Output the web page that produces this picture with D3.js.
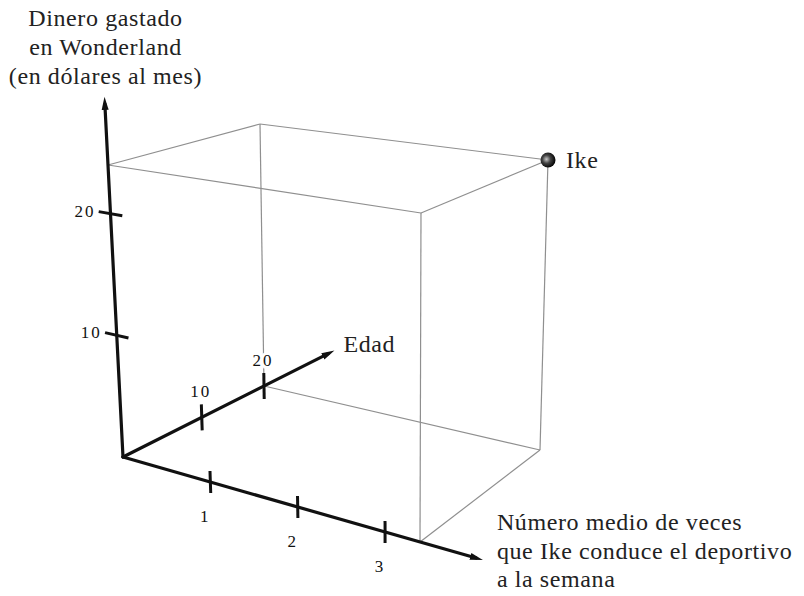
<!DOCTYPE html>
<html>
<head>
<meta charset="utf-8">
<script src="https://cdn.jsdelivr.net/npm/d3@7"></script>
<style>
  body { margin: 0; background: #fff; }
  text { font-family: "Liberation Serif", "DejaVu Serif", serif; fill: #222; }
</style>
</head>
<body>
<script>
// Datos del grafico
var puntoNombre = ["Ike"];
var puntoVeces = [3.4];     // veces por semana
var puntoDinero = [24];     // dolares al mes
var puntoEdad = [20];       // anos

var vecesTicks = [1, 2, 3];
var dineroTicks = [10, 20];
var edadTicks = [10, 20];

// hasta donde llegan las flechas de los ejes
var vecesMax = 4.12;
var dineroMax = 29.6;
var edadMax = 32.4;

var tituloDinero = ["Dinero gastado", "en Wonderland", "(en dólares al mes)"];
var tituloVeces = ["Número medio de veces", "que Ike conduce el deportivo", "a la semana"];
var tituloEdad = ["Edad"];

function loadChart() {

  var wx = 804,
      hy = 596;

  var canvas = d3.select("body")
      .append("svg")
      .attr("width", wx)
      .attr("height", hy);

  // Marco de la proyeccion (dibujo a mano alzada, casi en perspectiva).
  // Posicion en pantalla de las esquinas del cubo de referencia (u,v,w).
  var marco = {
    "000": [123, 457], "100": [420, 542], "010": [108, 165], "110": [421, 213],
    "001": [264, 386], "101": [540, 450], "011": [260, 124], "111": [548, 160]
  };

  var sx = d3.scaleLinear().domain([0, puntoVeces[0]]).range([0, 1]);
  var sy = d3.scaleLinear().domain([0, puntoDinero[0]]).range([0, 1]);
  // la profundidad se acorta con la distancia
  var sz = d3.scalePow().exponent(0.84).domain([0, puntoEdad[0]]).range([0, 1]);

  function proyectar(x, y, z) {
    var u = sx(x), v = sy(y), w = sz(z);
    var px = 0, py = 0;
    Object.keys(marco).forEach(function(k) {
      var p = (k[0] == "1" ? u : 1 - u) *
              (k[1] == "1" ? v : 1 - v) *
              (k[2] == "1" ? w : 1 - w);
      px += p * marco[k][0];
      py += p * marco[k][1];
    });
    return [px, py];
  }

  function direccion(a, b) {
    var dx = b[0] - a[0], dy = b[1] - a[1];
    var l = Math.sqrt(dx * dx + dy * dy);
    return [dx / l, dy / l];
  }

  // Punta de flecha
  canvas.append("defs").append("marker")
      .attr("id", "flecha")
      .attr("viewBox", "0 -5 14 10")
      .attr("markerUnits", "userSpaceOnUse")
      .attr("markerWidth", 14)
      .attr("markerHeight", 10)
      .attr("refX", 6)
      .attr("refY", 0)
      .attr("orient", "auto")
      .append("path")
      .attr("d", "M0,-3.5L13,0L0,3.5Z")
      .attr("fill", "#111");

  // Gradiente de la bolita
  var grad = canvas.select("defs").append("radialGradient")
      .attr("id", "bola")
      .attr("cx", "40%").attr("cy", "45%").attr("r", "60%");
  grad.append("stop").attr("offset", "0%").attr("stop-color", "#c8c8c8");
  grad.append("stop").attr("offset", "45%").attr("stop-color", "#444");
  grad.append("stop").attr("offset", "100%").attr("stop-color", "#000");

  // Caja gris alrededor del punto
  var X = puntoVeces[0], Y = puntoDinero[0], Z = puntoEdad[0];
  var aristas = [
    [[0, Y, 0], [X, Y, 0]],
    [[X, 0, 0], [X, Y, 0]],
    [[0, Y, 0], [0, Y, Z]],
    [[0, Y, Z], [X, Y, Z]],
    [[X, Y, 0], [X, Y, Z]],
    [[X, 0, Z], [X, Y, Z]],
    [[X, 0, 0], [X, 0, Z]],
    [[0, 0, Z], [X, 0, Z]],
    [[0, 0, Z], [0, Y, Z]]
  ];

  canvas.append("g").selectAll("line")
      .data(aristas)
      .enter().append("line")
      .attr("x1", function(d) { return proyectar(d[0][0], d[0][1], d[0][2])[0]; })
      .attr("y1", function(d) { return proyectar(d[0][0], d[0][1], d[0][2])[1]; })
      .attr("x2", function(d) { return proyectar(d[1][0], d[1][1], d[1][2])[0]; })
      .attr("y2", function(d) { return proyectar(d[1][0], d[1][1], d[1][2])[1]; })
      .style("stroke", "#8f8f8f")
      .style("stroke-width", 1.2);

  // Ejes con flecha
  var origen = proyectar(0, 0, 0);
  var ejes = [
    { fin: proyectar(vecesMax, 0, 0) },
    { fin: proyectar(0, dineroMax, 0) },
    { fin: proyectar(0, 0, edadMax) }
  ];

  canvas.append("g").selectAll("line")
      .data(ejes)
      .enter().append("line")
      .attr("x1", origen[0])
      .attr("y1", origen[1])
      .attr("x2", function(d) { return d.fin[0] - 7 * direccion(origen, d.fin)[0]; })
      .attr("y2", function(d) { return d.fin[1] - 7 * direccion(origen, d.fin)[1]; })
      .attr("marker-end", "url(#flecha)")
      .style("stroke", "#111")
      .style("stroke-width", 3.2)
      .style("stroke-linecap", "round");

  // Marcas de los ejes
  function marcas(lista, punto, otro, medio, clase) {
    canvas.append("g").selectAll("line." + clase)
        .data(lista)
        .enter().append("line")
        .attr("class", clase)
        .each(function(t) {
          var p = punto(t), q = otro(t);
          var d = direccion(p, q);
          d3.select(this)
              .attr("x1", p[0] - medio * d[0]).attr("y1", p[1] - medio * d[1])
              .attr("x2", p[0] + medio * d[0]).attr("y2", p[1] + medio * d[1]);
        })
        .style("stroke", "#111")
        .style("stroke-width", 3);
  }

  marcas(vecesTicks,
         function(t) { return proyectar(t, 0, 0); },
         function(t) { return proyectar(t, 10, 0); }, 11, "mv");
  marcas(dineroTicks,
         function(t) { return proyectar(0, t, 0); },
         function(t) { return proyectar(1, t, 0); }, 12, "md");
  marcas(edadTicks,
         function(t) { return proyectar(0, 0, t); },
         function(t) { return proyectar(0, 10, t); }, 13, "me");

  // Etiquetas de las marcas
  canvas.append("g").selectAll("text")
      .data(vecesTicks)
      .enter().append("text")
      .attr("x", function(t) { return proyectar(t, 0, 0)[0] - 6; })
      .attr("y", function(t) { return proyectar(t, 0, 0)[1] + 40; })
      .attr("text-anchor", "middle")
      .style("font-size", "17px")
      .style("fill", "#111")
      .text(function(t) { return t; });

  canvas.append("g").selectAll("text")
      .data(dineroTicks)
      .enter().append("text")
      .attr("x", function(t) { return proyectar(0, t, 0)[0] - 15; })
      .attr("y", function(t) { return proyectar(0, t, 0)[1] + 3; })
      .attr("text-anchor", "end")
      .style("font-size", "17px")
      .style("letter-spacing", "2px")
      .style("fill", "#111")
      .text(function(t) { return t; });

  canvas.append("g").selectAll("text")
      .data(edadTicks)
      .enter().append("text")
      .attr("x", function(t) { return proyectar(0, 0, t)[0] - 1; })
      .attr("y", function(t) { return proyectar(0, 0, t)[1] - 20; })
      .attr("text-anchor", "middle")
      .style("font-size", "17px")
      .style("letter-spacing", "2px")
      .style("fill", "#111")
      .style("paint-order", "stroke")
      .style("stroke", "#fff")
      .style("stroke-width", 6)
      .text(function(t) { return t; });

  // Titulos de los ejes
  var finDinero = ejes[1].fin, finVeces = ejes[0].fin, finEdad = ejes[2].fin;

  canvas.append("g").selectAll("text")
      .data(tituloDinero)
      .enter().append("text")
      .attr("x", finDinero[0] + 1)
      .attr("y", function(d, i) { return finDinero[1] - 13 - (tituloDinero.length - 1 - i) * 29; })
      .attr("text-anchor", "middle")
      .style("font-size", "24px")
      .style("letter-spacing", "0.6px")
      .text(function(d) { return d; });

  canvas.append("g").selectAll("text")
      .data(tituloVeces)
      .enter().append("text")
      .attr("x", finVeces[0] + 14)
      .attr("y", function(d, i) { return finVeces[1] - 30 + i * 28.5; })
      .style("font-size", "24px")
      .style("letter-spacing", "0.6px")
      .text(function(d) { return d; });

  canvas.append("g").selectAll("text")
      .data(tituloEdad)
      .enter().append("text")
      .attr("x", finEdad[0] + 9)
      .attr("y", finEdad[1] + 1)
      .style("font-size", "24px")
      .style("letter-spacing", "0.6px")
      .text(function(d) { return d; });

  // El punto de Ike
  var bolas = canvas.append("g").selectAll("g")
      .data(puntoNombre)
      .enter().append("g")
      .attr("transform", function(d, i) {
        var p = proyectar(puntoVeces[i], puntoDinero[i], puntoEdad[i]);
        return "translate(" + p[0] + "," + p[1] + ")";
      });

  bolas.append("circle")
      .attr("r", 7.5)
      .attr("fill", "url(#bola)");

  bolas.append("text")
      .attr("x", 18)
      .attr("y", 8)
      .style("font-size", "24px")
      .style("letter-spacing", "0.6px")
      .text(function(d) { return d; });
}
loadChart();
</script>
</body>
</html>
